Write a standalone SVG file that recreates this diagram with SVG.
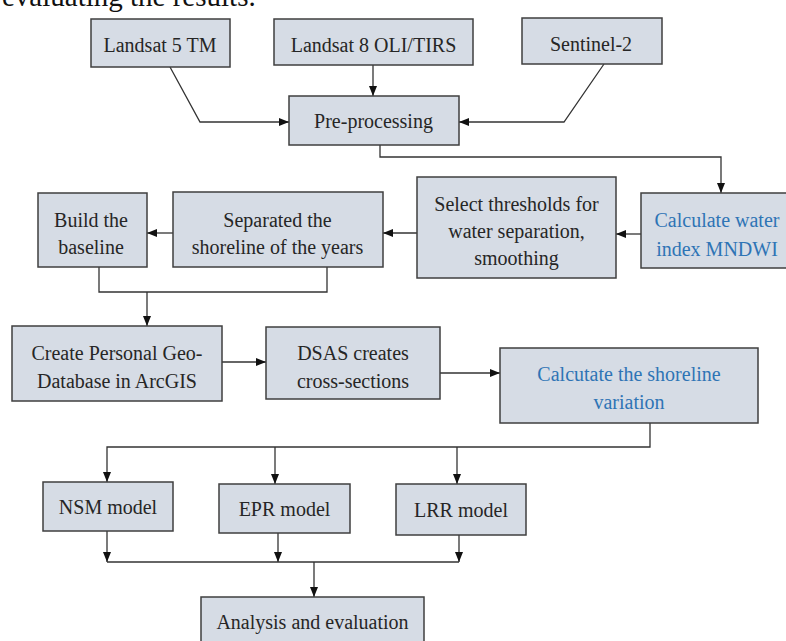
<svg xmlns="http://www.w3.org/2000/svg" width="786" height="641" viewBox="0 0 786 641">
<defs>
<style>
.box{fill:#D6DCE5;stroke:#3F3F3F;stroke-width:1.5}
.t{font-family:"Liberation Serif","Times New Roman",serif;font-size:20px;fill:#262626;text-anchor:middle}
.blue{fill:#2E74B5}
.conn{fill:none;stroke:#333333;stroke-width:1.3}
</style>
<marker id="arr" markerUnits="userSpaceOnUse" markerWidth="10" markerHeight="8" refX="10" refY="4" orient="auto">
<path d="M0,0 L10,4 L0,8 z" fill="#111111"/>
</marker>
</defs>
<rect width="786" height="641" fill="#ffffff"/>
<text x="2" y="6" style="font-family:'Liberation Serif','Times New Roman',serif;font-size:29px;fill:#111111">evaluating the results.</text>

<g id="connectors">
<polyline class="conn" points="170,67 200,122 289,122" marker-end="url(#arr)"/>
<polyline class="conn" points="373,65 373,96" marker-end="url(#arr)"/>
<polyline class="conn" points="604,64 564,122 459,122" marker-end="url(#arr)"/>
<polyline class="conn" points="380,145 380,157 721,157 721,193" marker-end="url(#arr)"/>
<polyline class="conn" points="641,234 616,234" marker-end="url(#arr)"/>
<polyline class="conn" points="417,233 383,233" marker-end="url(#arr)"/>
<polyline class="conn" points="173,233 147,233" marker-end="url(#arr)"/>
<polyline class="conn" points="99,267 99,292 327,292 327,267"/>
<polyline class="conn" points="147,292 147,326" marker-end="url(#arr)"/>
<polyline class="conn" points="222,362 266,362" marker-end="url(#arr)"/>
<polyline class="conn" points="440,373 500,373" marker-end="url(#arr)"/>
<polyline class="conn" points="650,423 650,447 107,447 107,482" marker-end="url(#arr)"/>
<polyline class="conn" points="275,447 275,484" marker-end="url(#arr)"/>
<polyline class="conn" points="457,447 457,484" marker-end="url(#arr)"/>
<polyline class="conn" points="107,531 107,562" marker-end="url(#arr)"/>
<polyline class="conn" points="278,533 278,562" marker-end="url(#arr)"/>
<polyline class="conn" points="459,535 459,562" marker-end="url(#arr)"/>
<polyline class="conn" points="107,562 459,562"/>
<polyline class="conn" points="314,562 314,597" marker-end="url(#arr)"/>
</g>

<g id="landsat5">
<rect class="box" x="91" y="19" width="139" height="48"/>
<text class="t" x="160" y="52">Landsat 5 TM</text>
</g>
<g id="landsat8">
<rect class="box" x="274" y="19" width="199" height="46"/>
<text class="t" x="373.5" y="52">Landsat 8 OLI/TIRS</text>
</g>
<g id="sentinel2">
<rect class="box" x="522" y="18" width="140" height="46"/>
<text class="t" x="591" y="51">Sentinel-2</text>
</g>
<g id="preprocessing">
<rect class="box" x="289" y="96" width="170" height="49"/>
<text class="t" x="373.5" y="128">Pre-processing</text>
</g>
<g id="mndwi">
<rect class="box" x="641" y="193" width="154" height="75"/>
<text class="t blue" x="717" y="227">Calculate water</text>
<text class="t blue" x="717" y="256">index MNDWI</text>
</g>
<g id="thresholds">
<rect class="box" x="417" y="177" width="199" height="101"/>
<text class="t" x="516.5" y="211">Select thresholds for</text>
<text class="t" x="516.5" y="238">water separation,</text>
<text class="t" x="516.5" y="265">smoothing</text>
</g>
<g id="separated">
<rect class="box" x="173" y="192" width="210" height="75"/>
<text class="t" x="277.5" y="227">Separated the</text>
<text class="t" x="277.5" y="254">shoreline of the years</text>
</g>
<g id="baseline">
<rect class="box" x="38" y="193" width="109" height="74"/>
<text class="t" x="91" y="227">Build the</text>
<text class="t" x="91" y="254">baseline</text>
</g>
<g id="geodatabase">
<rect class="box" x="12" y="326" width="210" height="75"/>
<text class="t" x="117" y="360">Create Personal Geo-</text>
<text class="t" x="117" y="388">Database in ArcGIS</text>
</g>
<g id="dsas">
<rect class="box" x="266" y="327" width="174" height="72"/>
<text class="t" x="353" y="360">DSAS creates</text>
<text class="t" x="353" y="388">cross-sections</text>
</g>
<g id="variation">
<rect class="box" x="500" y="348" width="258" height="75"/>
<text class="t blue" x="629" y="381">Calcutate the shoreline</text>
<text class="t blue" x="629" y="409">variation</text>
</g>
<g id="nsm">
<rect class="box" x="43" y="482" width="130" height="49"/>
<text class="t" x="108" y="514">NSM model</text>
</g>
<g id="epr">
<rect class="box" x="219" y="484" width="131" height="49"/>
<text class="t" x="284.5" y="516">EPR model</text>
</g>
<g id="lrr">
<rect class="box" x="396" y="484" width="130" height="51"/>
<text class="t" x="461" y="517">LRR model</text>
</g>
<g id="analysis">
<rect class="box" x="201" y="597" width="223" height="60"/>
<text class="t" x="312.5" y="629">Analysis and evaluation</text>
</g>
</svg>
